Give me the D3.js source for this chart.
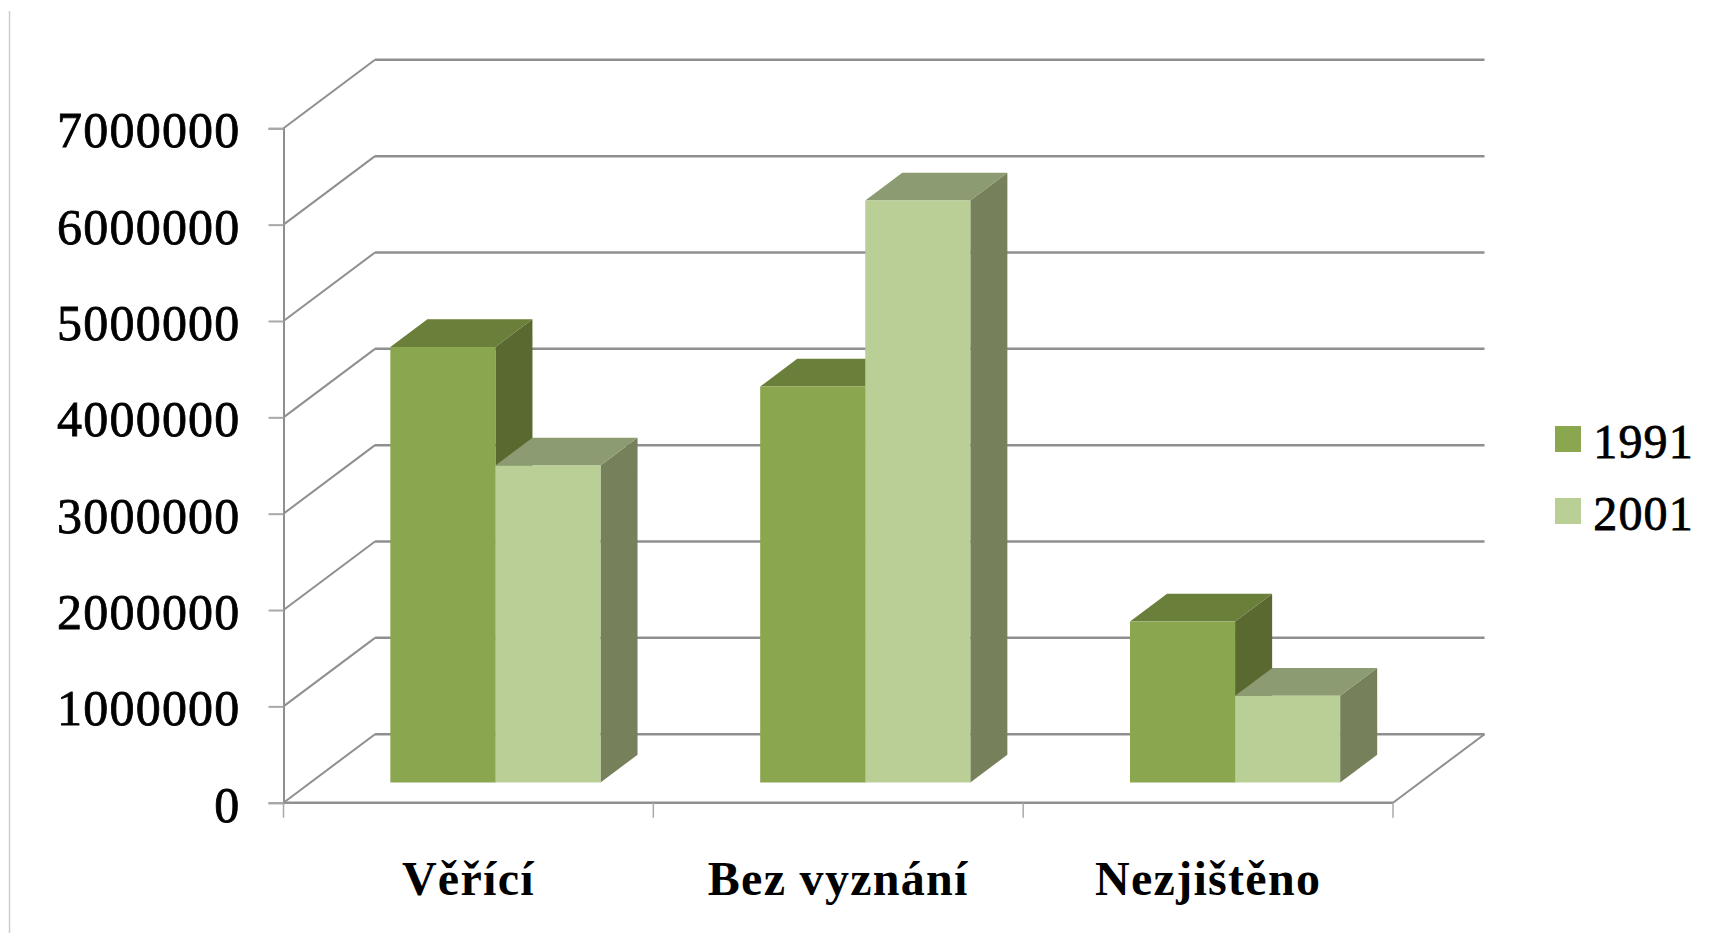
<!DOCTYPE html>
<html>
<head>
<meta charset="utf-8">
<script src="https://cdnjs.cloudflare.com/ajax/libs/d3/7.8.5/d3.min.js"></script>
<style>
    html, body { margin: 0; padding: 0; background: #fff; overflow: hidden; }
    .tick-label { font-family: "Liberation Serif", serif; font-size: 50px; letter-spacing: 1.2px; fill: #000; stroke: #000; stroke-width: 0.8px; }
    .cat-label { font-family: "Liberation Serif", serif; font-weight: bold; font-size: 48px; letter-spacing: 1.3px; fill: #000; }
</style>
</head>
<body>
<svg id="chart"></svg>
<script>
const categories = ["Věřící", "Bez vyznání", "Nezjištěno"];
const seriesNames = ["1991", "2001"];
const values1991 = [4520000, 4110000, 1670000];
const values2001 = [3290000, 6040000, 900000];
const yTicks = [0, 1000000, 2000000, 3000000, 4000000, 5000000, 6000000, 7000000];

const seriesColors = {
    "1991": {front: "#8aa64f", top: "#6a7f3a", side: "#59692f"},
    "2001": {front: "#b9cf96", top: "#8c9b71", side: "#76815c"}
};

const width = 1712, height = 933;
const frontLeft = 283.5, frontRight = 1393, y0 = 802.7, y7 = 128.3;
const depthX = 91.5, depthY = -68.5;   // floor depth on screen
const barZ0 = 0.295, barZ1 = 0.7;      // bar front/back as share of floor depth
const gridColor = "#8f8f8f";

const svg = d3.select("#chart").attr("width", width).attr("height", height);

const yScale = d3.scaleLinear().domain([0, 7000000]).range([y0, y7]);
const xScale = d3.scaleBand().domain(categories).range([frontLeft, frontRight]);
const xInner = d3.scaleBand().domain(seriesNames)
    .range([0, xScale.bandwidth()])
    .paddingInner(0).paddingOuter(0.76);

// screen position of x / value at depth z (0 front, 1 back wall)
const px = (x, z) => x + depthX * z;
const py = (v, z) => yScale(v) + depthY * z;
const pts = list => list.map(p => p.join(",")).join(" ");

// page edge line
svg.append("line")
    .attr("x1", 9.5).attr("x2", 9.5).attr("y1", 11).attr("y2", height)
    .attr("stroke", "#cfcfcf").attr("stroke-width", 1.5);

// walls
const walls = svg.append("g").attr("fill", "none").attr("stroke", gridColor);

walls.selectAll(".back-line").data(yTicks).join("line")
    .attr("class", "back-line")
    .attr("x1", px(frontLeft, 1)).attr("x2", px(frontRight, 1))
    .attr("y1", d => py(d, 1)).attr("y2", d => py(d, 1))
    .attr("stroke-width", 2.5);

walls.selectAll(".side-line").data(yTicks).join("line")
    .attr("class", "side-line")
    .attr("x1", frontLeft).attr("x2", px(frontLeft, 1))
    .attr("y1", d => py(d, 0)).attr("y2", d => py(d, 1))
    .attr("stroke-width", 2);

// floor edges
walls.append("line")
    .attr("x1", frontLeft).attr("x2", frontRight)
    .attr("y1", yScale(0)).attr("y2", yScale(0))
    .attr("stroke-width", 2.5);
walls.append("line")
    .attr("x1", frontRight).attr("x2", px(frontRight, 1))
    .attr("y1", yScale(0)).attr("y2", py(0, 1))
    .attr("stroke-width", 2);

// y axis
const yAxis = d3.axisLeft(yScale).tickValues(yTicks).tickSize(15).tickPadding(28).tickFormat(d3.format("d"));
const yAxisG = svg.append("g").attr("transform", `translate(${frontLeft},0)`).call(yAxis);
yAxisG.select(".domain").attr("stroke", gridColor).attr("stroke-width", 2);
yAxisG.selectAll(".tick line").attr("stroke", "#a8a8a8").attr("stroke-width", 2);
yAxisG.selectAll(".tick text").attr("class", "tick-label").attr("dy", "0.37em");

// x axis, labels sit on band centres and the ticks on band edges
const xAxis = d3.axisBottom(xScale).tickSize(0).tickPadding(58);
const xAxisG = svg.append("g").attr("transform", `translate(0,${y0})`).call(xAxis);
xAxisG.select(".domain").remove();
xAxisG.selectAll(".tick text").attr("class", "cat-label");

const edges = d3.range(categories.length + 1).map(i => frontLeft + i * xScale.step());
svg.selectAll(".x-edge").data(edges).join("line")
    .attr("class", "x-edge")
    .attr("x1", d => d).attr("x2", d => d)
    .attr("y1", y0).attr("y2", y0 + 15)
    .attr("stroke", "#a8a8a8").attr("stroke-width", 1.5);

// bars
const rows = categories.flatMap((c, i) => [
    {cat: c, series: "1991", value: values1991[i]},
    {cat: c, series: "2001", value: values2001[i]}
]);

const bars = svg.selectAll(".bar").data(rows).join("g").attr("class", "bar");

bars.each(function(d) {
    const g = d3.select(this);
    const x0 = xScale(d.cat) + xInner(d.series);
    const x1 = x0 + xInner.bandwidth();
    const c = seriesColors[d.series];

    g.append("polygon").attr("fill", c.side).attr("points", pts([
        [px(x1, barZ0), py(0, barZ0)], [px(x1, barZ1), py(0, barZ1)],
        [px(x1, barZ1), py(d.value, barZ1)], [px(x1, barZ0), py(d.value, barZ0)]
    ]));
    g.append("polygon").attr("fill", c.top).attr("points", pts([
        [px(x0, barZ0), py(d.value, barZ0)], [px(x1, barZ0), py(d.value, barZ0)],
        [px(x1, barZ1), py(d.value, barZ1)], [px(x0, barZ1), py(d.value, barZ1)]
    ]));
    g.append("rect").attr("fill", c.front)
        .attr("x", px(x0, barZ0)).attr("y", py(d.value, barZ0))
        .attr("width", x1 - x0).attr("height", yScale(0) - yScale(d.value));
});

// legend
const legend = svg.selectAll(".legend").data(seriesNames).join("g")
    .attr("class", "legend")
    .attr("transform", (d, i) => `translate(0,${440 + i * 72})`);
legend.append("rect")
    .attr("x", 1555).attr("y", -14).attr("width", 26).attr("height", 26)
    .attr("fill", d => seriesColors[d].front);
legend.append("text")
    .attr("class", "tick-label")
    .attr("x", 1694).attr("dy", "0.37em")
    .attr("text-anchor", "end")
    .style("font-size", "48px")
    .text(d => d);
</script>
</body>
</html>
